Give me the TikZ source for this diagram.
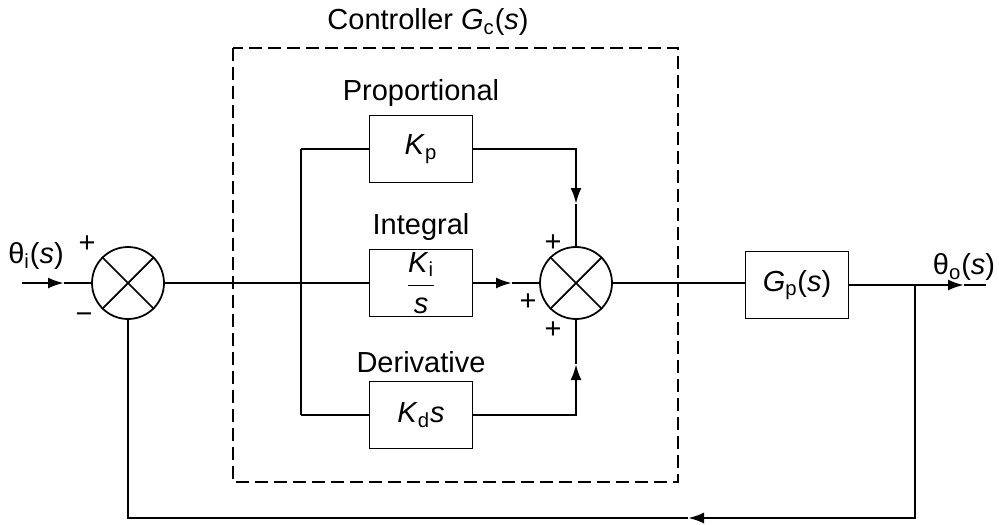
\documentclass[tikz,border=0pt]{standalone}
\usepackage{fontspec}
\setmainfont{Liberation Sans}
\usetikzlibrary{arrows.meta}
\newcommand{\gainsym}[2]{\textit{#1}\textsubscript{#2}}
\begin{document}
\begin{tikzpicture}[x=0.02cm, y=-0.02cm, font=\fontsize{16.5}{19}\selectfont,
          >={Latex[length=3.2mm,width=2.2mm]},
          blockbox/.style={draw, line width=1pt, minimum width=2.06cm, minimum height=1.34cm, inner sep=0pt},
          sumj/.style={circle, draw, line width=1pt, minimum size=1.44cm, inner sep=0pt},
          sig/.style={line width=1.4pt},
          ctrlbox/.style={draw, line width=0.8pt, dash pattern=on 0.26cm off 0.12cm}]
        \useasboundingbox (0,0) rectangle (999,524);
        % controller frame
        \draw[ctrlbox] (233,48) rectangle (678,482);
        \node (ctitle) at (428,22) {Controller \gainsym{G}{c}(\textit{s})};
        % summing junctions
        \node[sumj] (s1) at (128,283) {};
        \node[sumj] (s2) at (576,283) {};
        \draw[line width=1pt] (s1.45) -- (s1.225) (s1.135) -- (s1.-45);
        \draw[line width=1pt] (s2.45) -- (s2.225) (s2.135) -- (s2.-45);
        % blocks
        \node[blockbox] (kp) at (421,149) {\gainsym{K}{p}};
        \node[blockbox] (ki) at (421,283) {$\displaystyle\frac{\hbox{\gainsym{K}{i}}}{\hbox{\textit{s}}}$};
        \node[blockbox] (kd) at (421,415) {\gainsym{K}{d}\textit{s}};
        \node[blockbox] (gp) at (797,285) {\gainsym{G}{p}(\textit{s})};
        \node[above=1pt] at (kp.north) {Proportional};
        \node[above=1pt] at (ki.north) {Integral};
        \node[above=1pt] at (kd.north) {Derivative};
        % points on the lines
        \coordinate (in) at (22,283);
        \coordinate (inarr) at (64,283);
        \coordinate (split) at (301,283);
        \coordinate (kparr) at (576,204);
        \coordinate (kiarr) at (512,283);
        \coordinate (kdarr) at (576,364);
        \coordinate (tap) at (915,285);
        \coordinate (outarr) at (964,285);
        \coordinate (out) at (986,285);
        \coordinate (fb) at (915,518);
        \coordinate (fbarr) at (688,518);
        % signal lines
        \draw[sig, ->] (in) -- (inarr);
        \draw[sig] (inarr) -- (s1);
        \draw[sig] (s1) -- (ki);
        \draw[sig] (split |- kp) -- (split |- kd);
        \draw[sig] (split |- kp) -- (kp);
        \draw[sig] (split |- kd) -- (kd);
        \draw[sig, ->] (kp.east) -| (kparr);
        \draw[sig] (kparr) -- (s2);
        \draw[sig, ->] (ki) -- (kiarr);
        \draw[sig] (kiarr) -- (s2);
        \draw[sig, ->] (kd.east) -| (kdarr);
        \draw[sig] (kdarr) -- (s2);
        \draw[sig] (s2) -- (s2 -| gp.west);
        \draw[sig, ->] (gp) -- (outarr);
        \draw[sig] (outarr) -- (out);
        \draw[sig, ->] (tap) -- (fb) -- (fbarr);
        \draw[sig] (fbarr) -- (s1 |- fb) -- (s1);
        % signs and signal names
        \node at (36,256) {θ\textsubscript{i}(\textit{s})};
        \node at (964,267) {θ\textsubscript{o}(\textit{s})};
        \node at (87,244) {+};
        \node at (84,318) {−};
        \node at (553,243) {+};
        \node at (528,302) {+};
        \node at (553,330) {+};
      \end{tikzpicture}
\end{document}
